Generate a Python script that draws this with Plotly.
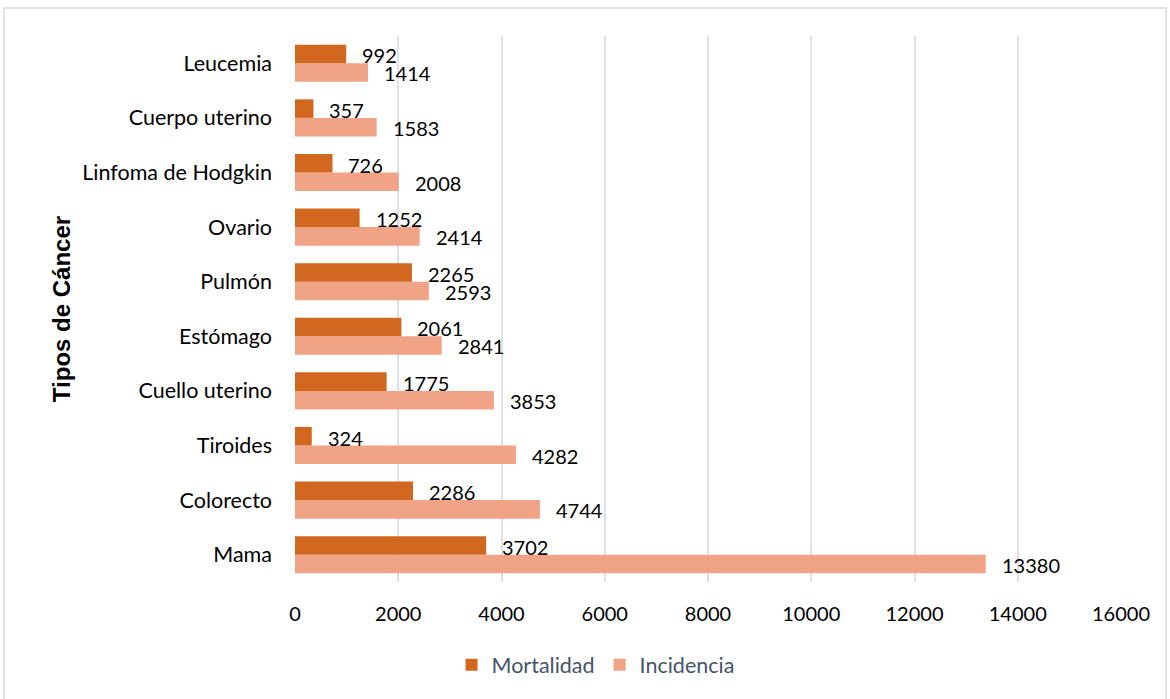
import plotly.graph_objects as go

categories = ["Mama", "Colorecto", "Tiroides", "Cuello uterino", "Estómago",
              "Pulmón", "Ovario", "Linfoma de Hodgkin", "Cuerpo uterino", "Leucemia"]
mortalidad = [3702, 2286, 324, 1775, 2061, 2265, 1252, 726, 357, 992]
incidencia = [13380, 4744, 4282, 3853, 2841, 2593, 2414, 2008, 1583, 1414]
x_ticks = [0, 2000, 4000, 6000, 8000, 10000, 12000, 14000, 16000]

C_MORT = "#D2681F"
C_INC = "#F0A385"
FONT = "Lato, 'Liberation Sans', Arial, sans-serif"

fig = go.Figure()
fig.add_trace(go.Bar(y=categories, x=incidencia, name="Incidencia", orientation="h",
                     marker=dict(color=C_INC, line=dict(width=0)), legendrank=2))
fig.add_trace(go.Bar(y=categories, x=mortalidad, name="Mortalidad", orientation="h",
                     marker=dict(color=C_MORT, line=dict(width=0)), legendrank=1))

annotations = []
for cat, m, i in zip(categories, mortalidad, incidencia):
    annotations.append(dict(x=m, y=cat, text=str(m), showarrow=False, xanchor="left",
                            yanchor="middle", xshift=14, yshift=8,
                            font=dict(size=20, color="#000000", family=FONT)))
    annotations.append(dict(x=i, y=cat, text=str(i), showarrow=False, xanchor="left",
                            yanchor="middle", xshift=14, yshift=-10,
                            font=dict(size=20, color="#000000", family=FONT)))

fig.update_layout(
    width=1170, height=699,
    margin=dict(l=295, r=49, t=36, b=117),
    paper_bgcolor="white", plot_bgcolor="white",
    barmode="group", bargap=0.32, bargroupgap=0,
    font=dict(family=FONT, size=20, color="#000000"),
    showlegend=True,
    legend=dict(orientation="h", xref="container", yref="container",
                x=0.509, y=0.049, xanchor="center", yanchor="middle",
                font=dict(size=21.5, color="#44546A", family=FONT),
                itemwidth=30, traceorder="normal"),
    xaxis=dict(range=[0, 16000], tickvals=x_ticks, ticktext=[str(v) for v in x_ticks],
               showgrid=True, gridcolor="#DDE1E8", gridwidth=2, zeroline=False,
               showline=False, ticks="", ticklabelstandoff=18,
               tickfont=dict(size=20, color="#000000")),
    yaxis=dict(type="category", categoryorder="array", categoryarray=categories,
               showgrid=False, zeroline=False, showline=False, ticks="",
               ticklabelstandoff=22, tickfont=dict(size=21.5, color="#000000"),
               title=dict(text="<b>Tipos de Cáncer</b>", standoff=4,
                          font=dict(size=24, color="#000000",
                                    family="'Liberation Sans', Arial, sans-serif"))),
    annotations=annotations,
    shapes=[dict(type="rect", xref="paper", yref="paper",
                 x0=(4 - 295) / 826, x1=(1166 - 295) / 826,
                 y0=(582 - 710) / 546, y1=(582 - 8) / 546,
                 line=dict(color="#D9D9D9", width=1.5), fillcolor="rgba(0,0,0,0)",
                 layer="below")],
)

fig.write_html("out.html")
